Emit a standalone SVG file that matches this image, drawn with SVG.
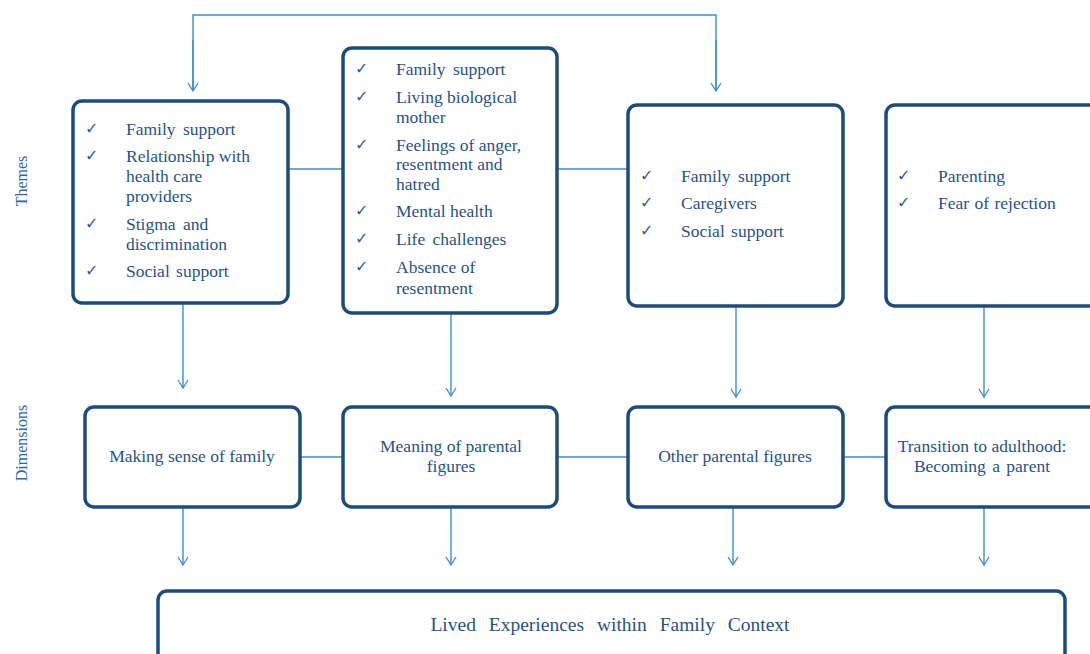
<svg xmlns="http://www.w3.org/2000/svg" width="1090" height="654" viewBox="0 0 1090 654">
<defs>
<marker id="arr" viewBox="0 0 12 12" refX="11" refY="6" markerWidth="12" markerHeight="12" markerUnits="userSpaceOnUse" orient="auto">
<path d="M3,1 L11,6 L3,11" fill="none" stroke="#3a8fd3" stroke-width="1.3"/>
</marker>
<style>
.box{fill:#fff;stroke:#1b4c7c;stroke-width:3.5}
.ln{fill:none;stroke:#3a8fd3;stroke-width:1.4}
.ar{fill:none;stroke:#3a8fd3;stroke-width:1.4;marker-end:url(#arr)}
.t{font-family:"Liberation Serif","Times New Roman",serif;font-size:17.5px;fill:#1f5488}
.c{text-anchor:middle}
.ck{font-family:"DejaVu Sans",sans-serif;font-size:16px;fill:#2a5f92}
.side{font-family:"Liberation Serif","Times New Roman",serif;font-size:16px;fill:#2a6aa8;text-anchor:middle}
</style>
</defs>
<rect width="1090" height="654" fill="#fff"/>

<g id="connectors">
<polyline class="ln" points="193,91 193,15 716,15 716,91"/>
<line class="ar" x1="193" y1="40" x2="193" y2="91"/>
<line class="ar" x1="716" y1="40" x2="716" y2="91"/>
<line class="ln" x1="288" y1="169" x2="343" y2="169"/>
<line class="ln" x1="557" y1="169" x2="628" y2="169"/>
<line class="ar" x1="183" y1="303" x2="183" y2="388"/>
<line class="ar" x1="451" y1="313" x2="451" y2="396"/>
<line class="ar" x1="736" y1="306" x2="736" y2="397"/>
<line class="ar" x1="984" y1="306" x2="984" y2="397"/>
<line class="ln" x1="300" y1="457" x2="343" y2="457"/>
<line class="ln" x1="557" y1="457" x2="628" y2="457"/>
<line class="ln" x1="843" y1="457" x2="886" y2="457"/>
<line class="ar" x1="183" y1="507" x2="183" y2="565"/>
<line class="ar" x1="451" y1="507" x2="451" y2="565"/>
<line class="ar" x1="733" y1="507" x2="733" y2="565"/>
<line class="ar" x1="984" y1="507" x2="984" y2="565"/>
</g>

<text class="side" transform="translate(27,181) rotate(-90)">Themes</text>
<text class="side" transform="translate(27,443) rotate(-90)">Dimensions</text>

<g id="theme1">
<rect class="box" x="73" y="101" width="215" height="202" rx="9"/>
<text class="ck" x="85" y="134">✓</text>
<text class="t" x="126" y="135" word-spacing="3">Family support</text>
<text class="ck" x="85" y="161">✓</text>
<text class="t" x="126" y="162">Relationship with</text>
<text class="t" x="126" y="182">health care</text>
<text class="t" x="126" y="202">providers</text>
<text class="ck" x="85" y="229">✓</text>
<text class="t" x="126" y="230" word-spacing="3">Stigma and</text>
<text class="t" x="126" y="250">discrimination</text>
<text class="ck" x="85" y="276">✓</text>
<text class="t" x="126" y="277" word-spacing="2">Social support</text>
</g>

<g id="theme2">
<rect class="box" x="343" y="48" width="214" height="265" rx="9"/>
<text class="ck" x="355" y="74">✓</text>
<text class="t" x="396" y="75" word-spacing="3">Family support</text>
<text class="ck" x="355" y="102">✓</text>
<text class="t" x="396" y="103">Living biological</text>
<text class="t" x="396" y="123">mother</text>
<text class="ck" x="355" y="150">✓</text>
<text class="t" x="396" y="151">Feelings of anger,</text>
<text class="t" x="396" y="170">resentment and</text>
<text class="t" x="396" y="190">hatred</text>
<text class="ck" x="355" y="216">✓</text>
<text class="t" x="396" y="217">Mental health</text>
<text class="ck" x="355" y="244">✓</text>
<text class="t" x="396" y="245" word-spacing="3">Life challenges</text>
<text class="ck" x="355" y="272">✓</text>
<text class="t" x="396" y="273">Absence of</text>
<text class="t" x="396" y="294">resentment</text>
</g>

<g id="theme3">
<rect class="box" x="628" y="105" width="215" height="201" rx="9"/>
<text class="ck" x="640" y="181">✓</text>
<text class="t" x="681" y="182" word-spacing="3">Family support</text>
<text class="ck" x="640" y="208">✓</text>
<text class="t" x="681" y="209">Caregivers</text>
<text class="ck" x="640" y="236">✓</text>
<text class="t" x="681" y="237" word-spacing="2">Social support</text>
</g>

<g id="theme4">
<rect class="box" x="886" y="105" width="220" height="201" rx="9"/>
<text class="ck" x="897" y="181">✓</text>
<text class="t" x="938" y="182">Parenting</text>
<text class="ck" x="897" y="208">✓</text>
<text class="t" x="938" y="209" word-spacing="1">Fear of rejection</text>
</g>

<g id="dim1">
<rect class="box" x="85" y="407" width="215" height="100" rx="9"/>
<text class="t c" x="192" y="462">Making sense of family</text>
</g>
<g id="dim2">
<rect class="box" x="343" y="407" width="214" height="100" rx="9"/>
<text class="t c" x="451" y="452">Meaning of parental</text>
<text class="t c" x="451" y="472">figures</text>
</g>
<g id="dim3">
<rect class="box" x="628" y="407" width="215" height="100" rx="9"/>
<text class="t c" x="735" y="462">Other parental figures</text>
</g>
<g id="dim4">
<rect class="box" x="886" y="407" width="220" height="100" rx="9"/>
<text class="t c" x="982" y="452">Transition to adulthood:</text>
<text class="t c" x="982" y="472" word-spacing="2">Becoming a parent</text>
</g>

<g id="outcome">
<rect class="box" x="158" y="591" width="907" height="90" rx="9"/>
<text class="t c" x="610" y="631" style="font-size:19.5px" word-spacing="8">Lived Experiences within Family Context</text>
</g>
</svg>
